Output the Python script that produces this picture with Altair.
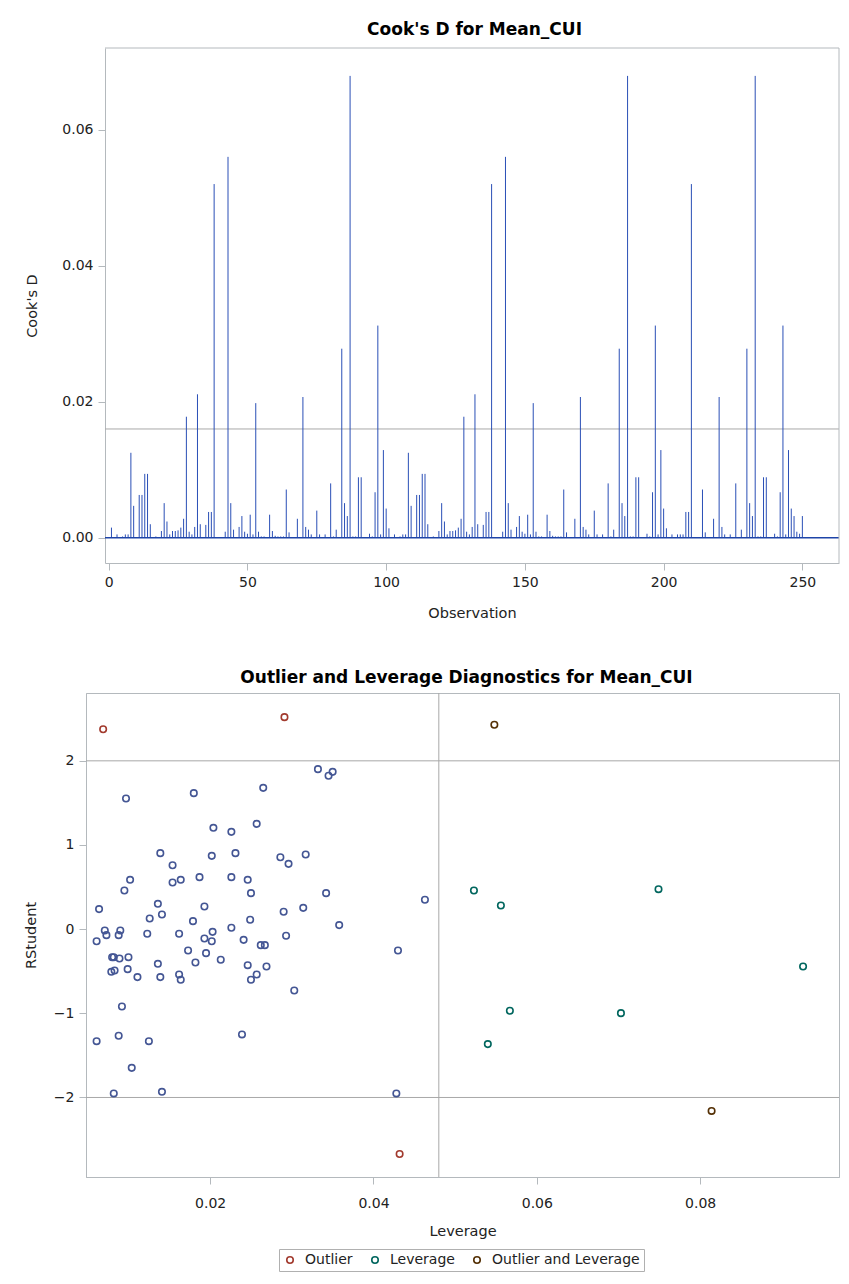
import altair as alt
import pandas as pd

# ---------------- Cook's D (needle plot) ----------------
obs_ids = [
    1, 3, 5, 6, 7, 8, 9, 11, 12, 13, 14, 15, 17, 19, 20, 21, 22, 23, 24, 25, 26, 27, 28, 29, 30,
    31, 32, 33, 35, 36, 37, 38, 42, 43, 44, 45, 47, 48, 49, 50, 51, 52, 53, 54, 55, 56, 58, 59, 60,
    61, 62, 63, 64, 65, 68, 70, 71, 72, 73, 75, 76, 78, 80, 81, 82, 84, 85, 86, 87, 88, 89, 90, 91,
    94, 95, 96, 97, 98, 99, 100,
    101, 103, 105, 106, 107, 108, 109, 111, 112, 113, 114, 115, 117, 119, 120, 121, 122, 123, 124,
    125, 126, 127, 128, 129, 130, 131, 132, 133, 135, 136, 137, 138, 142, 143, 144, 145, 147, 148,
    149, 150, 151, 152, 153, 154, 155, 156, 158, 159, 160, 161, 162, 163, 164, 165, 168, 170, 171,
    172, 173, 175, 176, 178, 180, 181, 182, 184, 185, 186, 187, 188, 189, 190, 191, 194, 195, 196,
    197, 198, 199, 200,
    201, 203, 205, 206, 207, 208, 209, 210, 214, 215, 218, 220, 221, 222, 224, 226, 228, 230, 231,
    232, 233, 234, 235, 236, 237, 240, 241, 242, 243, 244, 245, 246, 247, 248, 249, 250,
]
cooks_d = [
    0.0015, 0.0005, 0.0002, 0.0005, 0.0005, 0.0125, 0.0047, 0.0063, 0.0063, 0.0094, 0.0094, 0.0020,
    0.0002, 0.0010, 0.0051, 0.0024, 0.0005, 0.0010, 0.0010, 0.0011, 0.0015, 0.0028, 0.0178, 0.0009,
    0.0005, 0.0016, 0.0211, 0.0020, 0.0019, 0.0038, 0.0038, 0.0520, 0.0009, 0.0560, 0.0051, 0.0012,
    0.0016, 0.0032, 0.0009, 0.0006, 0.0034, 0.0005, 0.0198, 0.0009, 0.0002, 0.0002, 0.0034, 0.0010,
    0.0003, 0.0002, 0.0002, 0.0002, 0.0071, 0.0008, 0.0028, 0.0207, 0.0016, 0.0012, 0.0005, 0.0040,
    0.0005, 0.0005, 0.0080, 0.0002, 0.0012, 0.0278, 0.0051, 0.0032, 0.0679, 0.0002, 0.0002, 0.0089,
    0.0089, 0.0006, 0.0002, 0.0067, 0.0312, 0.0005, 0.0129, 0.0043,
    0.0014, 0.0005, 0.0002, 0.0005, 0.0005, 0.0125, 0.0047, 0.0063, 0.0063, 0.0094, 0.0094, 0.0020,
    0.0002, 0.0010, 0.0051, 0.0024, 0.0005, 0.0010, 0.0010, 0.0011, 0.0015, 0.0028, 0.0178, 0.0009,
    0.0005, 0.0016, 0.0211, 0.0020, 0.0019, 0.0038, 0.0038, 0.0520, 0.0009, 0.0560, 0.0051, 0.0012,
    0.0016, 0.0032, 0.0009, 0.0006, 0.0034, 0.0005, 0.0198, 0.0009, 0.0002, 0.0002, 0.0034, 0.0010,
    0.0003, 0.0002, 0.0002, 0.0002, 0.0071, 0.0008, 0.0028, 0.0207, 0.0016, 0.0012, 0.0005, 0.0040,
    0.0005, 0.0005, 0.0080, 0.0002, 0.0012, 0.0278, 0.0051, 0.0032, 0.0679, 0.0002, 0.0002, 0.0089,
    0.0089, 0.0006, 0.0002, 0.0067, 0.0312, 0.0005, 0.0129, 0.0043,
    0.0014, 0.0005, 0.0005, 0.0005, 0.0005, 0.0038, 0.0038, 0.0520, 0.0071, 0.0008, 0.0028, 0.0207,
    0.0016, 0.0005, 0.0005, 0.0080, 0.0012, 0.0278, 0.0051, 0.0032, 0.0679, 0.0002, 0.0002, 0.0089,
    0.0089, 0.0006, 0.0002, 0.0067, 0.0312, 0.0005, 0.0129, 0.0043, 0.0032, 0.0009, 0.0006, 0.0032,
]
cooks_cutoff = [0.016]           # 4/n
obs_ticks = [0, 50, 100, 150, 200, 250]
cooks_ticks = [0.0, 0.02, 0.04, 0.06]
obs_domain = [-1.33, 263.2]
cooks_domain = [-0.0037, 0.072]

# ---------------- Outlier and leverage diagnostics ----------------
normal_lev = [
    0.0097, 0.0180, 0.0204, 0.0226, 0.0257, 0.0231, 0.0202, 0.0139, 0.0154, 0.0154, 0.0164, 0.0187,
    0.0226, 0.0246, 0.0250, 0.0102, 0.0095, 0.0064, 0.0136, 0.0126, 0.0141, 0.0193, 0.0179, 0.0249,
    0.0226, 0.0071, 0.0073, 0.0061, 0.0090, 0.0088, 0.0123, 0.0162, 0.0203, 0.0202, 0.0193, 0.0241,
    0.0173, 0.0195, 0.0213, 0.0182, 0.0246, 0.0080, 0.0082, 0.0089, 0.0100, 0.0079, 0.0083, 0.0099,
    0.0111, 0.0136, 0.0139, 0.0162, 0.0164, 0.0250, 0.0257, 0.0092, 0.0061, 0.0088, 0.0125, 0.0239,
    0.0104, 0.0082, 0.0141,
    0.0332, 0.0345, 0.0350, 0.0265, 0.0286, 0.0296, 0.0317, 0.0342, 0.0463, 0.0290, 0.0314, 0.0358,
    0.0293, 0.0262, 0.0267, 0.0430, 0.0269, 0.0303, 0.0428,
]
normal_rst = [
    1.552, 1.616, 1.204, 1.156, 1.251, 0.903, 0.871, 0.903, 0.760, 0.554, 0.586, 0.618,
    0.618, 0.586, 0.428, 0.586, 0.459, 0.238, 0.301, 0.127, 0.174, 0.269, 0.095, 0.111,
    0.016, -0.016, -0.071, -0.143, -0.016, -0.071, -0.055, -0.055, -0.032, -0.143, -0.111, -0.127,
    -0.253, -0.285, -0.364, -0.396, -0.428, -0.333, -0.333, -0.349, -0.333, -0.507, -0.491, -0.475,
    -0.570, -0.412, -0.570, -0.539, -0.602, -0.602, -0.539, -0.919, -1.331, -1.267, -1.331, -1.251,
    -1.648, -1.952, -1.933,
    1.901, 1.822, 1.869, 1.679, 0.855, 0.776, 0.887, 0.428, 0.349, 0.206, 0.253, 0.048,
    -0.079, -0.190, -0.190, -0.253, -0.444, -0.729, -1.952,
]
diag_lev = [0.0069, 0.0291, 0.0432,
            0.0523, 0.0556, 0.0749, 0.0926, 0.0567, 0.0703, 0.0540,
            0.0548, 0.0814]
diag_rst = [2.376, 2.519, -2.672,
            0.459, 0.281, 0.475, -0.444, -0.970, -0.998, -1.366,
            2.428, -2.160]
diag_type = ["Outlier"] * 3 + ["Leverage"] * 7 + ["Outlier and Leverage"] * 2
diag_categories = ["Outlier", "Leverage", "Outlier and Leverage"]
diag_colors = ["#A23A2E", "#01665E", "#543005"]
rstudent_cutoffs = [-2, 2]
leverage_cutoff = [0.048]        # 2p/n
lev_ticks = [0.02, 0.04, 0.06, 0.08]
rst_ticks = [-2, -1, 0, 1, 2]
lev_domain = [0.0048, 0.0970]
rst_domain = [-2.945, 2.806]

FONT = "DejaVu Sans"
TXT = "#222222"
FRAME = "#B4B9BD"
REF = "#A8A8A8"
NEEDLE = "#2A4FB6"
BASE = "#1E44A8"
NORMAL = "#445694"

PANEL_W = 753
TOP_INSET = 19   # top panel's plot area starts further right than the bottom one

# ---------- top panel ----------
cook_df = pd.DataFrame({"Observation": obs_ids, "CooksD": cooks_d})
xs_top = alt.Scale(domain=obs_domain, range=[TOP_INSET, PANEL_W], nice=False, zero=False)
ys_top = alt.Scale(domain=cooks_domain, nice=False, zero=False)

needles = alt.Chart(cook_df).mark_rule(color=NEEDLE, strokeWidth=1).encode(
    x=alt.X("Observation:Q", scale=xs_top,
            axis=alt.Axis(values=obs_ticks, title="Observation", labelPadding=5, titlePadding=17,
                          titleX=(TOP_INSET + PANEL_W) / 2)),
    y=alt.Y("CooksD:Q", scale=ys_top,
            axis=alt.Axis(values=cooks_ticks, format=".2f", title="Cook's D",
                          labelPadding=5, titlePadding=22, offset=-TOP_INSET)),
    y2=alt.datum(0),
)
baseline = alt.Chart(pd.DataFrame({"b": [0.0]})).mark_rule(color=BASE, strokeWidth=1.5).encode(
    x=alt.datum(obs_domain[0], scale=xs_top), x2=alt.datum(obs_domain[1]),
    y=alt.Y("b:Q", scale=ys_top),
)
cut_top = alt.Chart(pd.DataFrame({"c": cooks_cutoff})).mark_rule(color=REF, strokeWidth=1).encode(
    x=alt.datum(obs_domain[0], scale=xs_top), x2=alt.datum(obs_domain[1]),
    y=alt.Y("c:Q", scale=ys_top),
)
frame_top = alt.Chart(pd.DataFrame({"f": [0]})).mark_rule(color=FRAME, strokeWidth=1).encode(
    x=alt.datum(obs_domain[0], scale=xs_top), x2=alt.datum(obs_domain[1]),
    y=alt.datum(cooks_domain[1], scale=ys_top),
)
frame_right = alt.Chart(pd.DataFrame({"f": [0]})).mark_rule(color=FRAME, strokeWidth=1).encode(
    x=alt.datum(obs_domain[1], scale=xs_top),
    y=alt.datum(cooks_domain[0], scale=ys_top), y2=alt.datum(cooks_domain[1]),
)
top = alt.layer(cut_top, needles, baseline, frame_top, frame_right).properties(
    width=PANEL_W, height=515,
    view=alt.ViewConfig(stroke="transparent"),
    title=alt.TitleParams("Cook's D for Mean_CUI", font=FONT, fontSize=17, fontWeight="bold",
                          color="#000000", offset=9, dx=12),
)

# ---------- bottom panel ----------
xs_bot = alt.Scale(domain=lev_domain, nice=False, zero=False)
ys_bot = alt.Scale(domain=rst_domain, nice=False, zero=False)

normal_df = pd.DataFrame({"Leverage": normal_lev, "RStudent": normal_rst})
diag_df = pd.DataFrame({"Leverage": diag_lev, "RStudent": diag_rst, "Type": diag_type})

ref_h = alt.Chart(pd.DataFrame({"r": rstudent_cutoffs})).mark_rule(color=REF, strokeWidth=1).encode(
    y=alt.Y("r:Q", scale=ys_bot)
)
ref_v = alt.Chart(pd.DataFrame({"l": leverage_cutoff})).mark_rule(color=REF, strokeWidth=1).encode(
    x=alt.X("l:Q", scale=xs_bot)
)
pts_normal = alt.Chart(normal_df).mark_point(
    shape="circle", filled=False, size=42, strokeWidth=1.6, color=NORMAL, opacity=1
).encode(
    x=alt.X("Leverage:Q", scale=xs_bot,
            axis=alt.Axis(values=lev_ticks, format=".2f", title="Leverage",
                          labelPadding=12, titlePadding=14)),
    y=alt.Y("RStudent:Q", scale=ys_bot,
            axis=alt.Axis(values=rst_ticks, format="d", title="RStudent",
                          labelPadding=5, titlePadding=15)),
)
pts_diag = alt.Chart(diag_df).mark_point(
    shape="circle", filled=False, size=42, strokeWidth=1.6, opacity=1
).encode(
    x=alt.X("Leverage:Q", scale=xs_bot),
    y=alt.Y("RStudent:Q", scale=ys_bot),
    color=alt.Color(
        "Type:N",
        scale=alt.Scale(domain=diag_categories, range=diag_colors),
        legend=alt.Legend(
            title=None, orient="none", direction="horizontal", columns=3,
            legendX=193, legendY=556, strokeColor="#B0B0B0", padding=4,
            symbolType="circle", symbolSize=42, symbolStrokeWidth=1.6,
            labelFont=FONT, labelFontSize=14, labelColor=TXT, labelOffset=8,
            columnPadding=15, symbolOffset=0,
        ),
    ),
)
bottom = alt.layer(ref_h, ref_v, pts_normal, pts_diag).properties(
    width=PANEL_W, height=484,
    view=alt.ViewConfig(stroke=FRAME, strokeWidth=1),
    title=alt.TitleParams("Outlier and Leverage Diagnostics for Mean_CUI", font=FONT, fontSize=17,
                          fontWeight="bold", color="#000000", offset=6, dx=4),
)

chart = alt.vconcat(top, bottom, spacing=48).resolve_legend(color="independent").properties(
    padding={"left": 14, "top": 12, "right": 0, "bottom": 0},
    background="white",
).configure_axis(
    domainColor=FRAME, tickColor=FRAME, tickSize=7, grid=False,
    labelFont=FONT, labelFontSize=14, labelColor=TXT,
    titleFont=FONT, titleFontSize=14.5, titleFontWeight="normal", titleColor=TXT,
)

chart.save("out.html", embed_options={"renderer": "svg", "actions": False})
